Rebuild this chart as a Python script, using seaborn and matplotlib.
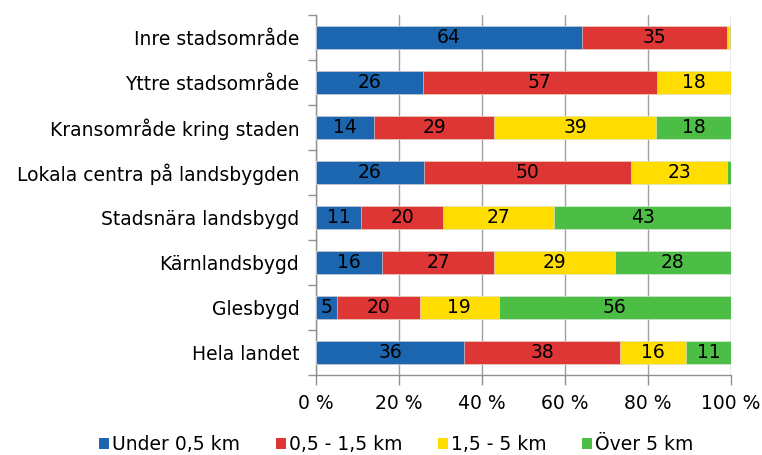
import numpy as np
import pandas as pd
import matplotlib
matplotlib.use("Agg")
import matplotlib.pyplot as plt
import seaborn as sns
from matplotlib.patches import Patch

categories = ["Inre stadsområde", "Yttre stadsområde", "Kransområde kring staden",
              "Lokala centra på landsbygden", "Stadsnära landsbygd", "Kärnlandsbygd",
              "Glesbygd", "Hela landet"]
under_05 = [64, 26, 14, 26, 11, 16, 5, 36]
km_05_15 = [35, 57, 29, 50, 20, 27, 20, 38]
km_15_5 = [0.7, 18, 39, 23, 27, 29, 19, 16]
over_5 = [0.3, 0, 18, 1, 43, 28, 56, 11]
series_names = ["Under 0,5 km", "0,5 - 1,5 km", "1,5 - 5 km", "Över 5 km"]
colors = ["#1C65AF", "#DE3535", "#FFDD00", "#4DBE45"]
xtick_vals = [0, 20, 40, 60, 80, 100]
xtick_labels = ["0 %", "20 %", "40 %", "60 %", "80 %", "100 %"]

sns.set_theme(style="white")
plt.rcParams['font.family'] = ['DejaVu Sans']
plt.rcParams['text.color'] = 'black'
plt.rcParams['xtick.color'] = 'black'
plt.rcParams['ytick.color'] = 'black'

vals = np.array([under_05, km_05_15, km_15_5, over_5], dtype=float)
pct = vals / vals.sum(axis=0) * 100
cum = np.cumsum(pct, axis=0)

FS = 13.5

fig = plt.figure(figsize=(7.62, 4.55), dpi=100)
ax = fig.add_axes([316/762, 1-375/455, (731-316)/762, (375-15)/455])

for i in range(3, -1, -1):
    df = pd.DataFrame({"cat": categories, "val": cum[i]})
    sns.barplot(data=df, x="val", y="cat", orient="h", color=colors[i],
                width=0.49, ax=ax, saturation=1, edgecolor="#E8E8E8",
                linewidth=0.4, zorder=3)

# labels
for i in range(4):
    for j, cat in enumerate(categories):
        v = vals[i, j]
        if v >= 3:
            left = cum[i, j] - pct[i, j]
            ax.text(left + pct[i, j] / 2, j, f"{v:.0f}", ha="center", va="center",
                    fontsize=FS, color="black", zorder=5)

ax.set_xlim(0, 100)
ax.set_ylim(len(categories) - 0.5, -0.5)
ax.set_xticks(xtick_vals)
ax.set_xticklabels(xtick_labels, fontsize=FS, color="black")
ax.set_xlabel("")
ax.set_ylabel("")
ax.set_yticks(range(len(categories)))
ax.set_yticklabels(categories, fontsize=FS, color="black")
ax.set_yticks(np.arange(-0.5, len(categories)), minor=True)
ax.tick_params(axis="y", which="major", length=0, pad=12, labelcolor="black")
ax.tick_params(axis="y", which="minor", length=6, color="#909090", width=1, direction="out", left=True)
ax.tick_params(axis="x", which="major", length=7, color="#909090", width=1, direction="out", bottom=True, pad=7, labelcolor="black")
ax.grid(axis="x", color="#A0A0A0", linewidth=1, zorder=0)
ax.set_axisbelow(True)
for s in ["top", "right"]:
    ax.spines[s].set_visible(False)
for s in ["left", "bottom"]:
    ax.spines[s].set_color("#909090")
    ax.spines[s].set_linewidth(1)

handles = [Patch(facecolor=c, edgecolor="none") for c in colors]
leg = fig.legend(handles, series_names, loc="lower center", bbox_to_anchor=(0.52, -0.035),
           ncol=4, frameon=False, fontsize=FS, handlelength=0.55, handleheight=0.55,
           handletextpad=0.15, columnspacing=1.9)
for t in leg.get_texts():
    t.set_color("black")

fig.savefig("out.png", dpi=100)
